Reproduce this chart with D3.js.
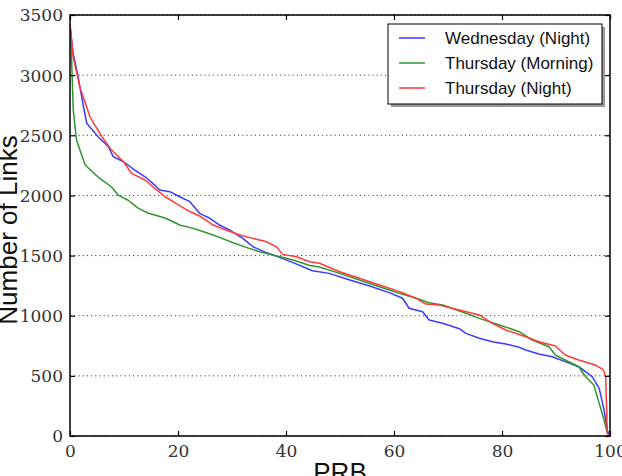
<!DOCTYPE html>
<html>
<head>
<meta charset="utf-8">
<script src="https://cdn.jsdelivr.net/npm/d3@7"></script>
<style>
  body { margin: 0; background: #fff; overflow: hidden; }
  svg { display: block; }
</style>
</head>
<body>
<div id="chart"></div>
<script>
// Series, as [PRB, number of links].
const wednesdayNight = [
  [0, 3420], [0.5, 3200], [1.5, 2987], [2.5, 2737], [3.1, 2600], [5.2, 2488], [7.1, 2405],
  [8, 2322], [9.9, 2280], [12, 2211], [13.9, 2155], [15.7, 2086], [16.6, 2045], [18.5, 2031],
  [20.3, 1989], [22.2, 1948], [24, 1851], [25.9, 1810], [27.7, 1754], [29.6, 1712], [32, 1643],
  [33.9, 1573], [36.4, 1524], [38.8, 1485], [41.3, 1441], [44.9, 1374], [48, 1352], [51.8, 1297],
  [55.5, 1247], [59.1, 1192], [61.6, 1145], [62.8, 1062], [65.3, 1033], [66.5, 964], [69, 937],
  [72.1, 892], [73.3, 853], [75.8, 812], [78.2, 784], [80.7, 765], [83.2, 737], [84.4, 715],
  [86.8, 682], [89.3, 659], [91.7, 618], [94.2, 576], [96.7, 493], [98, 396], [98.9, 216],
  [99.5, 50], [100, 0]
];
const thursdayMorning = [
  [0, 3420], [0.2, 3267], [0.6, 2710], [1.2, 2460], [2.8, 2253], [5.2, 2153], [7.7, 2070],
  [8.9, 2003], [10.7, 1962], [12.6, 1895], [14.4, 1854], [17.6, 1812], [19.1, 1781], [20.3, 1754],
  [22.8, 1726], [25.3, 1690], [27.7, 1651], [30.2, 1607], [32.6, 1568], [35.1, 1532], [37.6, 1504],
  [41.3, 1463], [44.4, 1418], [46.2, 1405], [49.9, 1352], [53.6, 1297], [57.3, 1241], [61, 1186],
  [64.1, 1145], [66.5, 1108], [69, 1089], [73.3, 1020], [75.8, 978], [79.5, 923], [83.2, 867],
  [85.6, 798], [88.7, 742], [89.9, 673], [91.7, 632], [94.2, 576], [95.5, 493], [97, 424],
  [98, 271], [98.9, 133], [99.5, 25], [100, 0]
];
const thursdayNight = [
  [0, 3420], [0.6, 3150], [1.8, 2904], [3.7, 2654], [5.9, 2488], [7.7, 2377], [9.9, 2280],
  [11.4, 2183], [13.9, 2128], [15.7, 2059], [17.6, 1989], [19.1, 1948], [21.6, 1879], [24, 1829],
  [26.5, 1754], [28.9, 1712], [31.4, 1671], [33.9, 1643], [36.4, 1615], [38.2, 1573], [39.4, 1510],
  [41.9, 1490], [44.4, 1449], [46.2, 1436], [49.9, 1366], [53.6, 1311], [57.3, 1255], [61, 1200],
  [64.1, 1145], [65.9, 1097], [68.4, 1089], [72.1, 1047], [75.8, 1006], [78.2, 937], [80.7, 881],
  [84.4, 825], [86.8, 784], [89.9, 748], [91.7, 673], [94.2, 632], [97.3, 590], [98.8, 549],
  [99.2, 493], [99.5, 22], [100, 0]
];

const seriesNames = ['Wednesday (Night)', 'Thursday (Morning)', 'Thursday (Night)'];
const seriesColors = ['#3a3aff', '#2e962e', '#ff3a3a'];
const xTicks = [0, 20, 40, 60, 80, 100];
const yTicks = [0, 500, 1000, 1500, 2000, 2500, 3000, 3500];

(function() {
  // Visualization size.
  const width = 622;
  const height = 476;
  const margin = {top: 15, right: 12, bottom: 40, left: 70};
  const w = width - margin.left - margin.right;
  const h = height - margin.top - margin.bottom;
  const serif = '"DejaVu Serif", "Liberation Serif", serif';

  const vis = d3.select('#chart')
    .append('svg')
    .attr('width', width)
    .attr('height', height);

  const x = d3.scaleLinear().domain([0, 100]).range([0, w]);
  const y = d3.scaleLinear().domain([0, 3500]).range([h, 0]);

  const plot = vis.append('g')
    .attr('transform', `translate(${margin.left}, ${margin.top})`);

  plot.append('clipPath')
    .attr('id', 'clip')
    .append('rect')
    .attr('width', w)
    .attr('height', h);

  // Dotted horizontal grid.
  plot.append('g')
    .selectAll('line')
    .data(yTicks)
    .enter()
    .append('line')
    .attr('x1', 0)
    .attr('x2', w)
    .attr('y1', d => y(d))
    .attr('y2', d => y(d))
    .style('stroke', '#444')
    .style('stroke-width', 1)
    .style('stroke-dasharray', '1.2,3');

  // Lines.
  const line = d3.line()
    .x(d => x(d[0]))
    .y(d => y(d[1]));

  plot.append('g')
    .attr('clip-path', 'url(#clip)')
    .selectAll('path')
    .data([wednesdayNight, thursdayMorning, thursdayNight])
    .enter()
    .append('path')
    .attr('d', line)
    .style('fill', 'none')
    .style('stroke', (d, i) => seriesColors[i])
    .style('stroke-width', 1.5)
    .style('stroke-linejoin', 'round');

  // Axes with inward ticks on all four sides; tick text appended by hand so
  // the serif face is set directly on each label.
  const bottom = plot.append('g')
    .attr('transform', `translate(0, ${h})`)
    .call(d3.axisBottom(x).tickValues(xTicks).tickSize(-5).tickFormat(''))
    .call(g => g.select('.domain').remove());

  bottom.selectAll('.tick')
    .append('text')
    .text(d => d)
    .attr('y', 21)
    .attr('font-family', serif)
    .attr('font-size', 17)
    .attr('fill', '#333')
    .attr('text-anchor', 'middle');

  const left = plot.append('g')
    .call(d3.axisLeft(y).tickValues(yTicks).tickSize(-5).tickFormat(''))
    .call(g => g.select('.domain').remove());

  left.selectAll('.tick')
    .append('text')
    .text(d => d)
    .attr('x', -7)
    .attr('dy', '0.35em')
    .attr('font-family', serif)
    .attr('font-size', 17)
    .attr('fill', '#333')
    .attr('text-anchor', 'end');

  plot.append('g')
    .call(d3.axisTop(x).tickValues(xTicks).tickSize(-5).tickFormat(''))
    .call(g => g.select('.domain').remove());

  plot.append('g')
    .attr('transform', `translate(${w}, 0)`)
    .call(d3.axisRight(y).tickValues(yTicks).tickSize(-5).tickFormat(''))
    .call(g => g.select('.domain').remove());

  plot.selectAll('.tick line')
    .style('stroke', '#000')
    .style('stroke-width', 1.2);

  // Frame.
  plot.append('rect')
    .attr('width', w)
    .attr('height', h)
    .style('fill', 'none')
    .style('stroke', '#000')
    .style('stroke-width', 1.5);

  // Axis labels.
  vis.append('text')
    .text('PRB')
    .attr('x', margin.left + w / 2)
    .attr('y', 481)
    .style('text-anchor', 'middle')
    .style('font-family', '"Liberation Sans", Arial, sans-serif')
    .style('font-size', '26px')
    .style('fill', '#111');

  vis.append('text')
    .text('Number of Links')
    .attr('transform', 'translate(17, 230) rotate(-90)')
    .style('text-anchor', 'middle')
    .style('font-family', '"Liberation Sans", Arial, sans-serif')
    .style('font-size', '26px')
    .style('fill', '#111');

  // Legend with drop shadow.
  const legend = vis.append('g')
    .attr('transform', 'translate(388, 24)');

  legend.append('rect')
    .attr('x', 3)
    .attr('y', 3)
    .attr('width', 214)
    .attr('height', 80)
    .style('fill', '#999');

  legend.append('rect')
    .attr('width', 214)
    .attr('height', 80)
    .style('fill', '#fff')
    .style('stroke', '#000')
    .style('stroke-width', 1);

  const item = legend.selectAll('g.item')
    .data(seriesNames)
    .enter()
    .append('g')
    .classed('item', true)
    .attr('transform', (d, i) => `translate(0, ${14 + i * 25})`);

  item.append('line')
    .attr('x1', 11)
    .attr('x2', 37)
    .attr('y1', 0)
    .attr('y2', 0)
    .style('stroke', (d, i) => seriesColors[i])
    .style('stroke-width', 1.5);

  item.append('text')
    .text(d => d)
    .attr('x', 57)
    .attr('y', 6)
    .style('font-family', '"Liberation Sans", Arial, sans-serif')
    .style('font-size', '17px')
    .style('fill', '#111');
})();
</script>
</body>
</html>
